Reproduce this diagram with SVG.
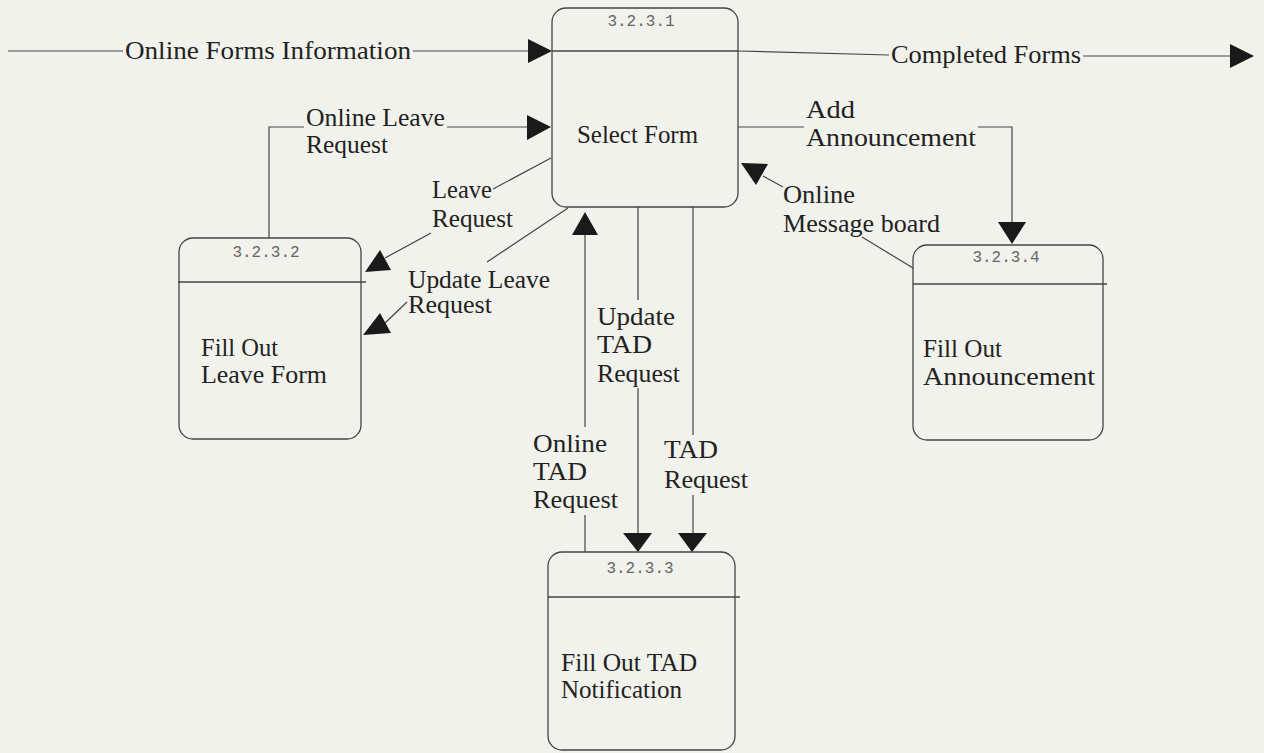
<svg xmlns="http://www.w3.org/2000/svg" width="1264" height="753" viewBox="0 0 1264 753">
<style>
.box{fill:none;stroke:#444;stroke-width:1.3}
.div{stroke:#444;stroke-width:1.3}
.id{font-family:"Liberation Mono",monospace;font-size:16px;fill:#666;text-anchor:middle}
.lbl{font-family:"Liberation Serif",serif;font-size:25px;fill:#222}
.ln{fill:none;stroke:#444;stroke-width:1.2}
.ah{fill:#1a1a1a}
</style>
<rect width="1264" height="753" fill="#f2f2ec"/>
<g id="connectors">
  <!-- Online Forms Information -->
  <path class="ln" d="M8 51 H123 M413 51 H530"/>
  <polygon class="ah" points="528,39 552,51 528,63"/>
  <text class="lbl" x="125" y="59" textLength="286" lengthAdjust="spacingAndGlyphs">Online Forms Information</text>
  <!-- Completed Forms -->
  <path class="ln" d="M738 51 L889 55 M1083 56 H1232"/>
  <polygon class="ah" points="1230,44 1254,56 1230,68"/>
  <text class="lbl" x="891" y="63" textLength="190" lengthAdjust="spacingAndGlyphs">Completed Forms</text>
  <!-- Online Leave Request -->
  <path class="ln" d="M269 238 V127 H304 M447 127 H529"/>
  <polygon class="ah" points="527,115 551,127 527,140"/>
  <text class="lbl" x="306" y="126" textLength="139" lengthAdjust="spacingAndGlyphs">Online Leave</text>
  <text class="lbl" x="306" y="153" textLength="82" lengthAdjust="spacingAndGlyphs">Request</text>
  <!-- Leave Request -->
  <path class="ln" d="M551 158 L493 189 M431 233 L385 258"/>
  <polygon class="ah" points="365,272 380,250 391,270"/>
  <text class="lbl" x="432" y="198" textLength="60" lengthAdjust="spacingAndGlyphs">Leave</text>
  <text class="lbl" x="432" y="227" textLength="81" lengthAdjust="spacingAndGlyphs">Request</text>
  <!-- Update Leave Request -->
  <path class="ln" d="M568 208 L487 262 M407 302 L385 323"/>
  <polygon class="ah" points="363,335 380,313 391,333"/>
  <text class="lbl" x="408" y="288" textLength="142" lengthAdjust="spacingAndGlyphs">Update Leave</text>
  <text class="lbl" x="408" y="313" textLength="84" lengthAdjust="spacingAndGlyphs">Request</text>
  <!-- Online TAD Request -->
  <path class="ln" d="M585 552 V515 M585 427 V234"/>
  <polygon class="ah" points="572,235 585,212 598,235"/>
  <text class="lbl" x="533" y="452" textLength="74" lengthAdjust="spacingAndGlyphs">Online</text>
  <text class="lbl" x="533" y="480" textLength="54" lengthAdjust="spacingAndGlyphs">TAD</text>
  <text class="lbl" x="533" y="508" textLength="85" lengthAdjust="spacingAndGlyphs">Request</text>
  <!-- Update TAD Request -->
  <path class="ln" d="M638 207 V300 M638 388 V534"/>
  <polygon class="ah" points="623,533 652,533 638,552"/>
  <text class="lbl" x="597" y="325" textLength="78" lengthAdjust="spacingAndGlyphs">Update</text>
  <text class="lbl" x="597" y="353" textLength="55" lengthAdjust="spacingAndGlyphs">TAD</text>
  <text class="lbl" x="597" y="382" textLength="83" lengthAdjust="spacingAndGlyphs">Request</text>
  <!-- TAD Request -->
  <path class="ln" d="M693 207 V435 M693 495 V534"/>
  <polygon class="ah" points="678,533 707,533 692,552"/>
  <text class="lbl" x="664" y="458" textLength="54" lengthAdjust="spacingAndGlyphs">TAD</text>
  <text class="lbl" x="664" y="488" textLength="84" lengthAdjust="spacingAndGlyphs">Request</text>
  <!-- Add Announcement -->
  <path class="ln" d="M738 127 H804 M978 127 H1012 V223"/>
  <polygon class="ah" points="998,222 1026,222 1012,244"/>
  <text class="lbl" x="806" y="118" textLength="49" lengthAdjust="spacingAndGlyphs">Add</text>
  <text class="lbl" x="806" y="146" textLength="170" lengthAdjust="spacingAndGlyphs">Announcement</text>
  <!-- Online Message board -->
  <path class="ln" d="M913 268 L862 237 M783 187 L763 176"/>
  <polygon class="ah" points="741,163 768,164 756,185"/>
  <text class="lbl" x="783" y="203" textLength="72" lengthAdjust="spacingAndGlyphs">Online</text>
  <text class="lbl" x="783" y="232" textLength="157" lengthAdjust="spacingAndGlyphs">Message board</text>
</g>
<g id="node-3231">
  <rect class="box" x="552" y="8" width="186" height="199" rx="14"/>
  <line class="div" x1="552" y1="51" x2="738" y2="51"/>
  <text class="id" x="641" y="26">3.2.3.1</text>
  <text class="lbl" x="577" y="143" textLength="121" lengthAdjust="spacingAndGlyphs">Select Form</text>
</g>
<g id="node-3232">
  <rect class="box" x="179" y="238" width="182" height="201" rx="14"/>
  <line class="div" x1="178" y1="282" x2="366" y2="282"/>
  <text class="id" x="266" y="257">3.2.3.2</text>
  <text class="lbl" x="201" y="356" textLength="77" lengthAdjust="spacingAndGlyphs">Fill Out</text>
  <text class="lbl" x="201" y="383" textLength="126" lengthAdjust="spacingAndGlyphs">Leave Form</text>
</g>
<g id="node-3233">
  <rect class="box" x="548" y="552" width="187" height="198" rx="14"/>
  <line class="div" x1="548" y1="597" x2="740" y2="597"/>
  <text class="id" x="640" y="573">3.2.3.3</text>
  <text class="lbl" x="561" y="671" textLength="136" lengthAdjust="spacingAndGlyphs">Fill Out TAD</text>
  <text class="lbl" x="561" y="698" textLength="121" lengthAdjust="spacingAndGlyphs">Notification</text>
</g>
<g id="node-3234">
  <rect class="box" x="913" y="245" width="190" height="195" rx="14"/>
  <line class="div" x1="913" y1="284" x2="1107" y2="284"/>
  <text class="id" x="1006" y="262">3.2.3.4</text>
  <text class="lbl" x="923" y="357" textLength="79" lengthAdjust="spacingAndGlyphs">Fill Out</text>
  <text class="lbl" x="923" y="385" textLength="172" lengthAdjust="spacingAndGlyphs">Announcement</text>
</g>
</svg>
